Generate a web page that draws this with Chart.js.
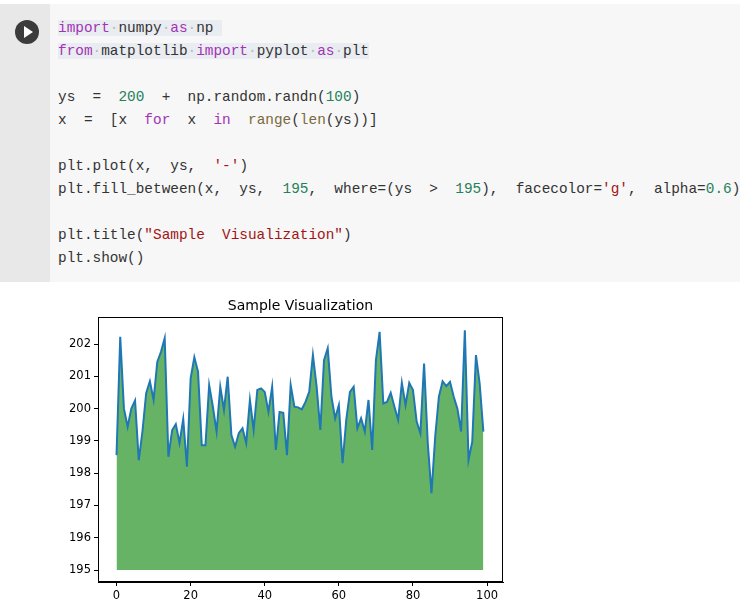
<!DOCTYPE html>
<html><head><meta charset="utf-8">
<script src="https://cdn.jsdelivr.net/npm/chart.js@4"></script>
<style>
body{margin:0;background:#fff;width:740px;height:614px;overflow:hidden;position:relative;font-family:"DejaVu Sans",sans-serif}
#cell{position:absolute;left:0;top:4px;width:740px;height:278px;background:#f7f7f7}
#gut{position:absolute;left:0;top:0;width:50px;height:278px;background:#e8e8e8}
#btn{position:absolute;left:15px;top:16px;width:24px;height:24px;border-radius:12px;background:#3b3b3b}
#btn:after{content:"";position:absolute;left:9px;top:6px;border-left:9px solid #fff;border-top:6px solid transparent;border-bottom:6px solid transparent}
pre{position:absolute;left:58px;top:13px;margin:0;font-family:"Liberation Mono",monospace;font-size:14.4px;line-height:23px;color:#333}
.k{color:#a333b5}.n{color:#26805a}.s{color:#a31515}.f{color:#7a6a3a}.d{color:#bbb}.h{background:#e9ecf1}
#wrap{position:absolute;left:40px;top:292px;width:466px;height:320px}
</style></head><body>
<div id="cell"><div id="gut"><div id="btn"></div></div>
<pre><span class="h"><span class="k">import</span><span class="d">·</span>numpy<span class="d">·</span><span class="k">as</span><span class="d">·</span>np </span>
<span class="h"><span class="k">from</span><span class="d">·</span>matplotlib<span class="d">·</span><span class="k">import</span><span class="d">·</span>pyplot<span class="d">·</span><span class="k">as</span><span class="d">·</span>plt</span>

ys  =  <span class="n">200</span>  +  np.random.randn(<span class="n">100</span>)
x  =  [x  <span class="k">for</span>  x  <span class="k">in</span>  <span class="f">range</span>(<span class="f">len</span>(ys))]

plt.plot(x,  ys,  <span class="s">'-'</span>)
plt.fill_between(x,  ys,  <span class="n">195</span>,  where=(ys  &gt;  <span class="n">195</span>),  facecolor=<span class="s">'g'</span>,  alpha=<span class="n">0.6</span>)

plt.title(<span class="s">"Sample  Visualization"</span>)
plt.show()</pre></div>
<div id="wrap"><canvas id="c"></canvas></div>
<script>
const xs = Array.from({length:100},(_, i)=>i);
const ys = [198.56,202.23,200.0,199.44,200.0,200.25,198.4,199.3,200.48,200.85,
200.27,201.45,201.76,202.18,198.51,199.33,199.52,198.93,199.68,198.2,
200.94,201.59,201.14,198.87,198.87,200.73,200.06,199.29,200.68,199.96,
200.99,199.18,198.82,199.24,199.39,198.93,200.27,199.34,200.58,200.63,
200.52,199.9,200.68,198.72,199.9,199.87,198.56,200.73,200.06,200.04,
199.98,200.21,200.52,201.66,200.68,199.34,201.5,201.87,200.37,199.7,
200.11,198.31,199.65,200.52,200.68,199.39,199.7,199.29,200.27,198.72,
201.5,202.38,200.16,200.21,200.49,200.06,199.65,200.8,200.11,200.8,
200.58,199.6,199.24,201.4,198.93,197.38,199.13,200.37,200.85,200.7,
200.83,200.37,200.0,199.29,202.43,198.41,198.98,201.66,200.78,199.29];
const xTicks = [0,20,40,60,80,100];
const yTicks = [195,196,197,198,199,200,201,202];
const baseline = 195;
const title = "Sample Visualization";

const frame = {id:'frame',afterDraw(c){const a=c.chartArea,x=c.ctx;x.save();x.strokeStyle='#000';x.lineWidth=1;x.strokeRect(a.left+0.5,a.top+0.5,a.right-a.left-1,a.bottom-a.top-1);
  x.fillStyle='#000';x.font='14px "DejaVu Sans"';x.textAlign='center';x.textBaseline='middle';x.fillText(title,(a.left+a.right)/2,a.top-11);x.restore();}};
const tickFont = {family:'"DejaVu Sans"',size:11.5};
new Chart(document.getElementById('c'),{
  type:'line',
  data:{datasets:[{data:xs.map((v,i)=>({x:v,y:ys[i]})),borderColor:'#1f77b4',borderWidth:2,pointRadius:0,tension:0,
    fill:{value:baseline},backgroundColor:'rgba(0,128,0,0.6)'}]},
  options:{responsive:true,maintainAspectRatio:false,animation:false,
    layout:{padding:{right:3,top:25}},
    plugins:{legend:{display:false},tooltip:{enabled:false},title:{display:false}},
    scales:{
      x:{type:'linear',min:-5,max:104.3,afterBuildTicks(s){s.ticks=xTicks.map(v=>({value:v}));},
        afterFit(s){s.height=30;},
        grid:{drawOnChartArea:false,drawTicks:true,tickLength:4,color:'#000'},border:{color:'#000'},
        ticks:{color:'#000',font:tickFont,padding:3,maxRotation:0}},
      y:{min:194.63,max:202.84,afterBuildTicks(s){s.ticks=yTicks.map(v=>({value:v}));},
        afterFit(s){s.width=58;},
        grid:{drawOnChartArea:false,drawTicks:true,tickLength:4,color:'#000'},border:{color:'#000'},
        ticks:{color:'#000',font:tickFont,padding:3}}
    }},
  plugins:[frame]
});
</script></body></html>
